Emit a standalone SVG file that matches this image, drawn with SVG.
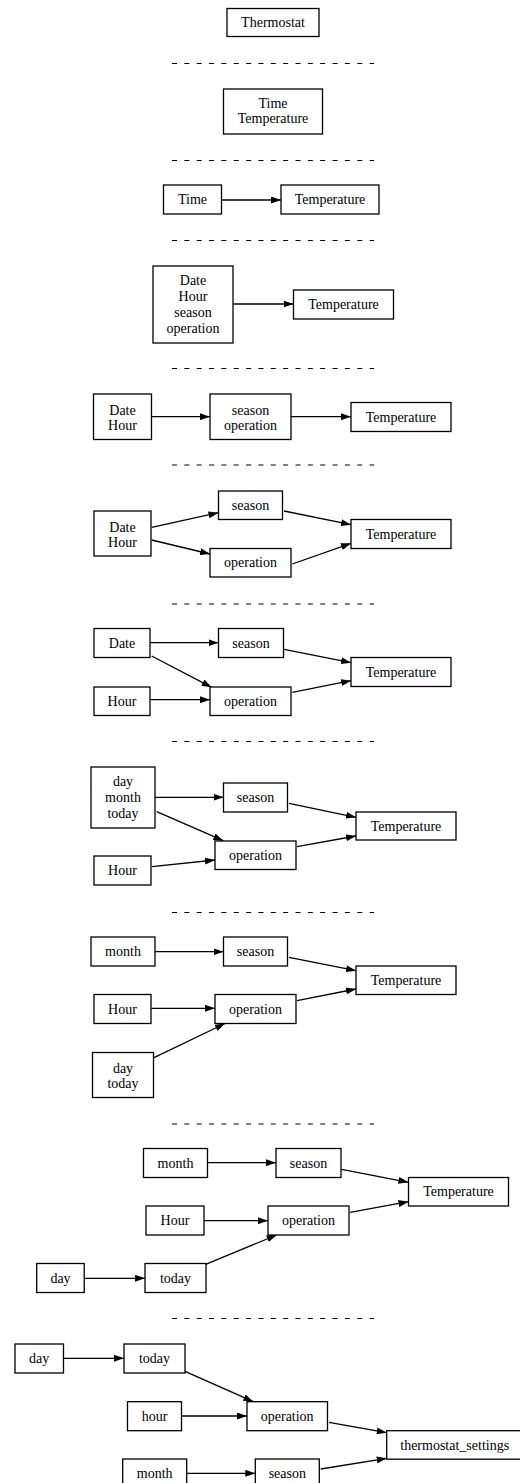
<svg xmlns="http://www.w3.org/2000/svg" width="520" height="1483" viewBox="0 0 520 1483">
<style>
.node rect{fill:#fff;stroke:#000;stroke-width:1.3}
.node text{font-family:"Liberation Serif","Times New Roman",serif;font-size:14px;text-anchor:middle;fill:#000}
.edge{stroke:#000;stroke-width:1.3;fill:none;marker-end:url(#arr)}
.sep{stroke:#000;stroke-width:1;stroke-dasharray:5 7.35}
</style>
<defs>
<marker id="arr" markerUnits="userSpaceOnUse" viewBox="0 0 10 7" refX="10" refY="3.5" markerWidth="10" markerHeight="7" orient="auto">
<path d="M0,0 L10,3.5 L0,7 z" fill="#000"/>
</marker>
</defs>
<g id="separators">
<line class="sep" x1="172" y1="63.5" x2="374" y2="63.5"/>
<line class="sep" x1="172" y1="160.5" x2="374" y2="160.5"/>
<line class="sep" x1="172" y1="240.5" x2="374" y2="240.5"/>
<line class="sep" x1="172" y1="368.5" x2="374" y2="368.5"/>
<line class="sep" x1="172" y1="465" x2="374" y2="465"/>
<line class="sep" x1="172" y1="604" x2="374" y2="604"/>
<line class="sep" x1="172" y1="741.5" x2="374" y2="741.5"/>
<line class="sep" x1="172" y1="912.5" x2="374" y2="912.5"/>
<line class="sep" x1="172" y1="1124" x2="374" y2="1124"/>
<line class="sep" x1="172" y1="1318.5" x2="374" y2="1318.5"/>
</g>
<g id="connectors">
<line class="edge" x1="222" y1="200" x2="281" y2="200"/>
<line class="edge" x1="233.5" y1="304" x2="293.5" y2="304"/>
<line class="edge" x1="151.5" y1="416.7" x2="210" y2="416.7"/>
<line class="edge" x1="291" y1="416.7" x2="351" y2="416.7"/>
<line class="edge" x1="151.7" y1="527.3" x2="218.5" y2="512.7"/>
<line class="edge" x1="151.7" y1="540" x2="210" y2="554"/>
<line class="edge" x1="284" y1="511" x2="351" y2="524.7"/>
<line class="edge" x1="292.3" y1="564" x2="351" y2="543.3"/>
<line class="edge" x1="150" y1="642.7" x2="218.5" y2="642.7"/>
<line class="edge" x1="151.7" y1="656" x2="211.7" y2="687.3"/>
<line class="edge" x1="150" y1="699.7" x2="210" y2="699.7"/>
<line class="edge" x1="284" y1="649.3" x2="351" y2="662.7"/>
<line class="edge" x1="292.3" y1="692.3" x2="351" y2="680.7"/>
<line class="edge" x1="155" y1="797.3" x2="223.5" y2="797.3"/>
<line class="edge" x1="156.7" y1="811.7" x2="223.3" y2="840.7"/>
<line class="edge" x1="152" y1="866.7" x2="215" y2="860"/>
<line class="edge" x1="289" y1="803.3" x2="356" y2="817.3"/>
<line class="edge" x1="297" y1="846.7" x2="356" y2="836"/>
<line class="edge" x1="155" y1="951.7" x2="223.5" y2="951.7"/>
<line class="edge" x1="151.3" y1="1008.3" x2="215" y2="1008.3"/>
<line class="edge" x1="154" y1="1057.7" x2="225" y2="1023.5"/>
<line class="edge" x1="289" y1="957.3" x2="356" y2="970.7"/>
<line class="edge" x1="297" y1="1000.7" x2="356" y2="989"/>
<line class="edge" x1="207.5" y1="1162.7" x2="276" y2="1162.7"/>
<line class="edge" x1="204" y1="1220.7" x2="268" y2="1220.7"/>
<line class="edge" x1="84.2" y1="1278.3" x2="145" y2="1278.3"/>
<line class="edge" x1="205.7" y1="1264.3" x2="276.7" y2="1235"/>
<line class="edge" x1="341.7" y1="1169.3" x2="408.5" y2="1182.3"/>
<line class="edge" x1="350" y1="1212.3" x2="408.5" y2="1201.7"/>
<line class="edge" x1="63.5" y1="1358.3" x2="124" y2="1358.3"/>
<line class="edge" x1="185" y1="1371.3" x2="253.3" y2="1401.7"/>
<line class="edge" x1="181.5" y1="1416" x2="247" y2="1416"/>
<line class="edge" x1="186.7" y1="1473.3" x2="255.3" y2="1473.3"/>
<line class="edge" x1="329" y1="1422.3" x2="386.7" y2="1432.7"/>
<line class="edge" x1="320.7" y1="1469" x2="386.7" y2="1458.3"/>
</g>
<g id="s1_thermostat" class="node"><rect x="227" y="8.5" width="92" height="28"/><text x="273" y="27">Thermostat</text></g>
<g id="s2_time_temperature" class="node"><rect x="223.5" y="89" width="99" height="45"/><text x="273" y="107.5">Time</text><text x="273" y="123">Temperature</text></g>
<g id="s3_time" class="node"><rect x="163.5" y="185" width="58" height="29"/><text x="192.5" y="204">Time</text></g>
<g id="s3_temperature" class="node"><rect x="281" y="185" width="98" height="29"/><text x="330" y="204">Temperature</text></g>
<g id="s4_inputs" class="node"><rect x="153" y="266" width="80" height="77"/><text x="193" y="285.2">Date</text><text x="193" y="301.2">Hour</text><text x="193" y="317.2">season</text><text x="193" y="333.2">operation</text></g>
<g id="s4_temperature" class="node"><rect x="293.5" y="290" width="100" height="29"/><text x="343.5" y="309">Temperature</text></g>
<g id="s5_datehour" class="node"><rect x="93.5" y="394" width="58" height="45.5"/><text x="122.5" y="414.5">Date</text><text x="122.5" y="430">Hour</text></g>
<g id="s5_seasonop" class="node"><rect x="210" y="394" width="81" height="45.5"/><text x="250.5" y="414.5">season</text><text x="250.5" y="430">operation</text></g>
<g id="s5_temperature" class="node"><rect x="351" y="402.5" width="100" height="29"/><text x="401" y="421.5">Temperature</text></g>
<g id="s6_datehour" class="node"><rect x="94" y="511" width="57" height="45"/><text x="122.5" y="531.5">Date</text><text x="122.5" y="546.5">Hour</text></g>
<g id="s6_season" class="node"><rect x="218.5" y="491" width="64" height="28.5"/><text x="250.5" y="509.5">season</text></g>
<g id="s6_operation" class="node"><rect x="210" y="548.5" width="81" height="28.5"/><text x="250.5" y="567">operation</text></g>
<g id="s6_temperature" class="node"><rect x="351" y="519.5" width="100" height="29"/><text x="401" y="538.5">Temperature</text></g>
<g id="s7_date" class="node"><rect x="94" y="628.5" width="56" height="29"/><text x="122" y="647.5">Date</text></g>
<g id="s7_season" class="node"><rect x="218.5" y="628.5" width="65" height="29"/><text x="251" y="647.5">season</text></g>
<g id="s7_hour" class="node"><rect x="94" y="687" width="56" height="28.5"/><text x="122" y="705.5">Hour</text></g>
<g id="s7_operation" class="node"><rect x="210" y="687" width="81" height="28.5"/><text x="250.5" y="705.5">operation</text></g>
<g id="s7_temperature" class="node"><rect x="351" y="657.5" width="100" height="29"/><text x="401" y="676.5">Temperature</text></g>
<g id="s8_daymonthtoday" class="node"><rect x="91" y="767" width="64" height="61"/><text x="123" y="786">day</text><text x="123" y="802">month</text><text x="123" y="818">today</text></g>
<g id="s8_season" class="node"><rect x="223.5" y="783" width="64" height="29"/><text x="255.5" y="802">season</text></g>
<g id="s8_temperature" class="node"><rect x="356" y="812" width="100" height="28"/><text x="406" y="830.5">Temperature</text></g>
<g id="s8_operation" class="node"><rect x="215" y="841" width="81" height="28.5"/><text x="255.5" y="859.5">operation</text></g>
<g id="s8_hour" class="node"><rect x="94" y="856" width="57" height="29"/><text x="122.5" y="875">Hour</text></g>
<g id="s9_month" class="node"><rect x="91" y="937" width="64" height="29"/><text x="123" y="956">month</text></g>
<g id="s9_season" class="node"><rect x="223.5" y="937" width="64" height="29"/><text x="255.5" y="956">season</text></g>
<g id="s9_temperature" class="node"><rect x="356" y="966" width="100" height="28.5"/><text x="406" y="984.5">Temperature</text></g>
<g id="s9_hour" class="node"><rect x="94" y="994.5" width="57" height="29"/><text x="122.5" y="1013.5">Hour</text></g>
<g id="s9_operation" class="node"><rect x="215" y="994.5" width="81" height="29"/><text x="255.5" y="1013.5">operation</text></g>
<g id="s9_daytoday" class="node"><rect x="92.5" y="1052.5" width="61" height="45"/><text x="123" y="1072.8">day</text><text x="123" y="1088">today</text></g>
<g id="s10_month" class="node"><rect x="143.5" y="1148.5" width="64" height="29"/><text x="175.5" y="1167.5">month</text></g>
<g id="s10_season" class="node"><rect x="276" y="1148.5" width="65" height="29"/><text x="308.5" y="1167.5">season</text></g>
<g id="s10_temperature" class="node"><rect x="408.5" y="1177.5" width="100" height="28.5"/><text x="458.5" y="1196">Temperature</text></g>
<g id="s10_hour" class="node"><rect x="146" y="1206" width="58" height="29"/><text x="175" y="1225">Hour</text></g>
<g id="s10_operation" class="node"><rect x="268" y="1206" width="81" height="29"/><text x="308.5" y="1225">operation</text></g>
<g id="s10_day" class="node"><rect x="36.7" y="1263.5" width="47.5" height="29"/><text x="60.5" y="1282.5">day</text></g>
<g id="s10_today" class="node"><rect x="145" y="1263.5" width="61" height="29"/><text x="175.5" y="1282.5">today</text></g>
<g id="s11_day" class="node"><rect x="15" y="1344" width="48.5" height="29"/><text x="39.2" y="1363">day</text></g>
<g id="s11_today" class="node"><rect x="124" y="1344" width="61" height="29"/><text x="154.5" y="1363">today</text></g>
<g id="s11_hour" class="node"><rect x="127.5" y="1401.7" width="54" height="29"/><text x="154.5" y="1420.7">hour</text></g>
<g id="s11_operation" class="node"><rect x="247" y="1401.7" width="80.5" height="29"/><text x="287.2" y="1420.7">operation</text></g>
<g id="s11_thermostat_settings" class="node"><rect x="386.7" y="1430.7" width="136" height="28.5"/><text x="454.7" y="1449.5">thermostat_settings</text></g>
<g id="s11_month" class="node"><rect x="122.7" y="1459" width="64" height="29"/><text x="154.7" y="1478">month</text></g>
<g id="s11_season" class="node"><rect x="255.3" y="1459" width="64" height="29"/><text x="287.3" y="1478">season</text></g>
</svg>
